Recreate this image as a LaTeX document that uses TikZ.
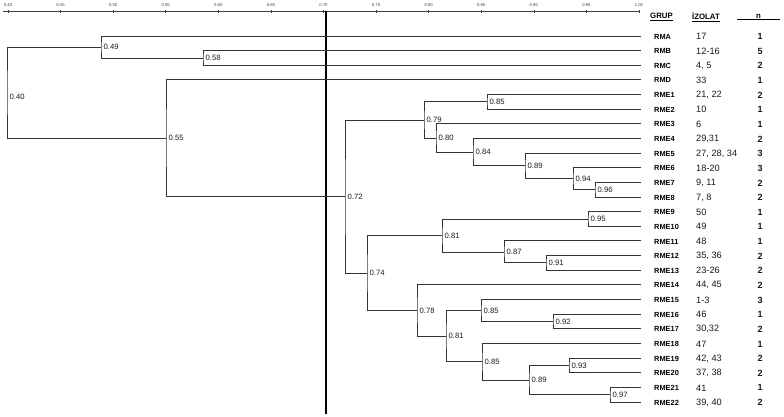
\documentclass[tikz,border=0pt]{standalone}
\usepackage{fontspec}
\setmainfont{Liberation Sans}
\begin{document}
\begin{tikzpicture}[x=1pt,y=-1pt,
  br/.style={draw=black!80, line width=1pt},
  val/.style={anchor=west, font=\fontsize{7.7}{8}\selectfont, text=black!90, inner sep=0pt, xshift=2.5pt},
  grp/.style={anchor=west, font=\bfseries\fontsize{7.4}{8}\selectfont, inner sep=0pt},
  iso/.style={anchor=west, font=\fontsize{9.2}{10}\selectfont, inner sep=0pt, text=black!90},
  cnt/.style={font=\bfseries\fontsize{9}{10}\selectfont, inner sep=0pt, text=black!90},
  hdr/.style={anchor=west, font=\bfseries\fontsize{7.8}{8}\selectfont, inner sep=0pt},
  ticklab/.style={font=\fontsize{4.2}{4.2}\selectfont, inner sep=0pt, text=black!75},
  axisline/.style={draw=black!75, line width=0.75pt},
  cut/.style={draw=black, line width=2.3pt}]
\useasboundingbox (0,0) rectangle (784,416);

% axis
\coordinate (axL) at (3,11);
\coordinate (axR) at (640,11);
\draw[axisline] (axL) -- (axR);
\foreach \v [count=\k from 0] in {0.40,0.45,0.50,0.55,0.60,0.65,0.70,0.75,0.80,0.85,0.90,0.95,1.00}{
  \coordinate (tk\k) at ({8+52.58*\k},11);
  \draw[axisline,line width=0.5pt] ([yshift=-1.5pt]tk\k) -- ([yshift=1.5pt]tk\k);
  \node[ticklab] (tl\k) at ({8+52.58*\k},5.5) {\v};
}

% cut line at 0.70
\coordinate (cutT) at (326,11);
\coordinate (cutB) at (326,414);
\draw[cut] (cutT) -- (cutB);

% header
\node[hdr] (hG) at (650,17) {\underline{GRUP}};
\node[hdr] (hI) at (692,17) {\underline{İZOLAT}};
\node[hdr, anchor=center] (hN) at (758.5,17) {\underline{\makebox[43pt]{n}}};

% leaves
\foreach \g/\s/\n [count=\i from 0] in {
  RMA/17/1, RMB/12-16/5, RMC/{4, 5}/2, RMD/33/1, RME1/{21, 22}/2, RME2/10/1,
  RME3/6/1, RME4/{29,31}/2, RME5/{27, 28, 34}/3, RME6/18-20/3, RME7/{9, 11}/2,
  RME8/{7, 8}/2, RME9/50/1, RME10/49/1, RME11/48/1, RME12/{35, 36}/2,
  RME13/23-26/2, RME14/{44, 45}/2, RME15/1-3/3, RME16/46/1, RME17/{30,32}/2,
  RME18/47/1, RME19/{42, 43}/2, RME20/{37, 38}/2, RME21/41/1, RME22/{39, 40}/2}{
  \coordinate (L\i) at (641,{36+14.64*\i});
  \node[grp] (g\i) at (654,{36.5+14.64*\i}) {\g};
  \node[iso] (z\i) at (696,{36.5+14.64*\i}) {\s};
  \node[cnt] (c\i) at (760,{36.5+14.64*\i}) {\n};
}

% internal nodes
\coordinate (n058) at (203,58.0);
\coordinate (n049) at (101,47.0);
\coordinate (n096) at (595,189.7);
\coordinate (n094) at (573,178.75);
\coordinate (n089a) at (525,165.9);
\coordinate (n084) at (473,152.2);
\coordinate (n080) at (436,138.0);
\coordinate (n085a) at (487,101.9);
\coordinate (n079) at (424,120.0);
\coordinate (n095) at (588,219.0);
\coordinate (n091) at (546,262.9);
\coordinate (n087) at (504,252.0);
\coordinate (n081a) at (442,235.5);
\coordinate (n092) at (553,321.5);
\coordinate (n085b) at (481,310.5);
\coordinate (n093) at (569,365.4);
\coordinate (n097) at (610,394.7);
\coordinate (n089b) at (529,380.05);
\coordinate (n085c) at (482,361.7);
\coordinate (n081b) at (446,336.1);
\coordinate (n078) at (417,310.5);
\coordinate (n074) at (367,273.0);
\coordinate (n072) at (345,196.5);
\coordinate (n055) at (166,138.2);
\coordinate (n040) at (7,92.6);

% brackets
\draw[br] (L1) -| (n058) |- (L2);
\draw[br] (L0) -| (n049) |- (n058);
\draw[br] (L10) -| (n096) |- (L11);
\draw[br] (L9) -| (n094) |- (n096);
\draw[br] (L8) -| (n089a) |- (n094);
\draw[br] (L7) -| (n084) |- (n089a);
\draw[br] (L6) -| (n080) |- (n084);
\draw[br] (L4) -| (n085a) |- (L5);
\draw[br] (n085a) -| (n079) |- (n080);
\draw[br] (L12) -| (n095) |- (L13);
\draw[br] (L15) -| (n091) |- (L16);
\draw[br] (L14) -| (n087) |- (n091);
\draw[br] (n095) -| (n081a) |- (n087);
\draw[br] (L19) -| (n092) |- (L20);
\draw[br] (L18) -| (n085b) |- (n092);
\draw[br] (L22) -| (n093) |- (L23);
\draw[br] (L24) -| (n097) |- (L25);
\draw[br] (n093) -| (n089b) |- (n097);
\draw[br] (L21) -| (n085c) |- (n089b);
\draw[br] (n085b) -| (n081b) |- (n085c);
\draw[br] (L17) -| (n078) |- (n081b);
\draw[br] (n081a) -| (n074) |- (n078);
\draw[br] (n079) -| (n072) |- (n074);
\draw[br] (L3) -| (n055) |- (n072);
\draw[br] (n049) -| (n040) |- (n055);

% values
\node[val] (v058) at (n058) {0.58};
\node[val] (v049) at (n049) {0.49};
\node[val] (v096) at (n096) {0.96};
\node[val] (v094) at (n094) {0.94};
\node[val] (v089a) at (n089a) {0.89};
\node[val] (v084) at (n084) {0.84};
\node[val] (v080) at (n080) {0.80};
\node[val] (v085a) at (n085a) {0.85};
\node[val] (v079) at (n079) {0.79};
\node[val] (v095) at (n095) {0.95};
\node[val] (v091) at (n091) {0.91};
\node[val] (v087) at (n087) {0.87};
\node[val] (v081a) at (n081a) {0.81};
\node[val] (v092) at (n092) {0.92};
\node[val] (v085b) at (n085b) {0.85};
\node[val] (v093) at (n093) {0.93};
\node[val] (v097) at (n097) {0.97};
\node[val] (v089b) at (n089b) {0.89};
\node[val] (v085c) at (n085c) {0.85};
\node[val] (v081b) at (n081b) {0.81};
\node[val] (v078) at (n078) {0.78};
\node[val] (v074) at (n074) {0.74};
\node[val] (v072) at (n072) {0.72};
\node[val] (v055) at (n055) {0.55};
\node[val] (v040) at ([yshift=-4pt]n040) {0.40};
\end{tikzpicture}
\end{document}
